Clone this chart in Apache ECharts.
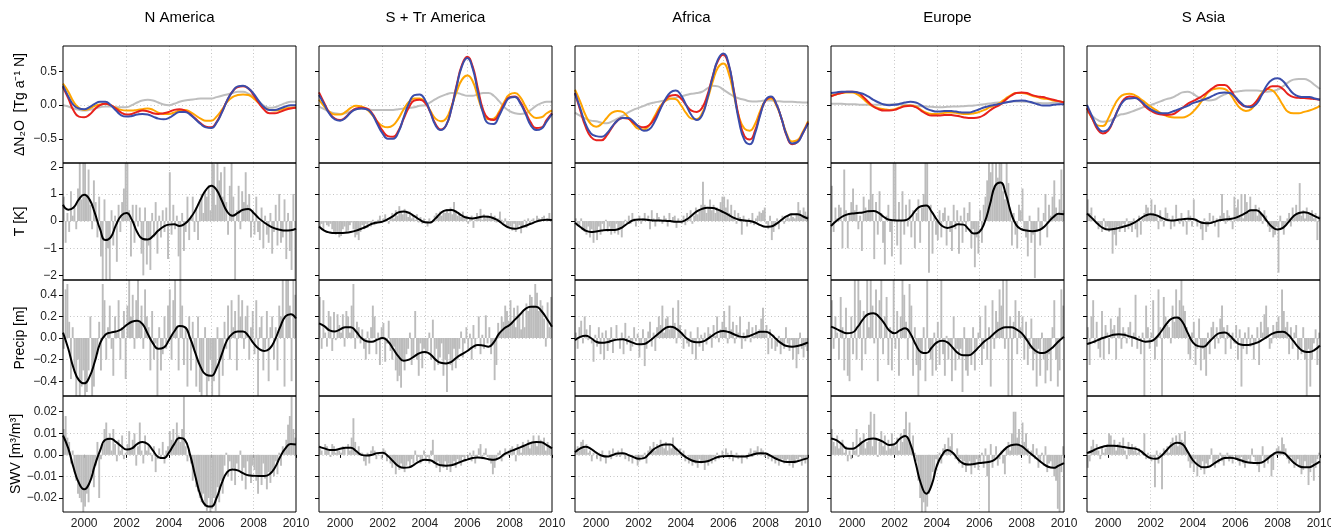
<!DOCTYPE html>
<html><head><meta charset="utf-8">
<script src="https://cdn.jsdelivr.net/npm/echarts@6/dist/echarts.min.js"></script>
<style>html,body{margin:0;padding:0;background:#fff}#c{width:1331px;height:531px}</style>
</head><body><div id="c"></div>
<script>
const regions = ['N America', 'S + Tr America', 'Africa', 'Europe', 'S Asia'];
const rowNames = ['ΔN₂O  [Tg a⁻¹ N]', 'T [K]', 'Precip [m]', 'SWV [m³/m³]'];
const yearTicks = [2000, 2002, 2004, 2006, 2008, 2010];
const n2oTicks = [-0.5, 0, 0.5];
const tTicks = [-2, -1, 0, 1, 2];
const precipTicks = [-0.4, -0.2, 0, 0.2, 0.4];
const swvTicks = [-0.02, -0.01, 0, 0.01, 0.02];
// sample times: quarterly for smoothed curves, monthly for anomaly bars
const quarters = Array.from({length: 45}, (_, i) => 1999 + i * 0.25);
const months = Array.from({length: 132}, (_, i) => 1999 + (i + 0.5) / 12);

// ---------- N America ----------
const naN2oGray = [0,-0.02,-0.05,-0.07, -0.08,-0.07,-0.05,-0.03, -0.02,-0.02,-0.03,-0.03, -0.03,0,0.04,0.07, 0.08,0.07,0.04,0.01, 0,0.02,0.05,0.07, 0.08,0.09,0.1,0.1, 0.1,0.12,0.14,0.16, 0.18,0.2,0.2,0.17, 0.12,0.05,-0.01,-0.04, -0.03,0,0.03,0.05, 0.05];
const naN2oOrange = [0.32,0.2,0.05,-0.04, -0.07,-0.05,-0.01,0.01, 0.02,0,-0.04,-0.07, -0.08,-0.08,-0.07,-0.06, -0.05,-0.07,-0.11,-0.13, -0.13,-0.11,-0.08,-0.07, -0.1,-0.15,-0.2,-0.23, -0.23,-0.17,-0.07,0.05, 0.12,0.15,0.16,0.15, 0.1,0.03,-0.04,-0.07, -0.08,-0.07,-0.05,-0.04, -0.03];
const naN2oRed = [0.27,0.1,-0.08,-0.17, -0.18,-0.14,-0.06,0, 0.02,0,-0.05,-0.11, -0.14,-0.13,-0.1,-0.08, -0.09,-0.12,-0.13,-0.12, -0.1,-0.07,-0.06,-0.08, -0.13,-0.2,-0.27,-0.32, -0.33,-0.25,-0.1,0.07, 0.2,0.27,0.28,0.25, 0.15,0.03,-0.07,-0.12, -0.12,-0.1,-0.07,-0.05, -0.04];
const naN2oBlue = [0.29,0.13,0,-0.05, -0.06,-0.03,0.02,0.05, 0.05,0,-0.08,-0.15, -0.17,-0.16,-0.14,-0.13, -0.14,-0.17,-0.2,-0.21, -0.19,-0.14,-0.1,-0.1, -0.14,-0.21,-0.28,-0.33, -0.34,-0.26,-0.11,0.07, 0.2,0.28,0.29,0.25, 0.17,0.06,-0.03,-0.07, -0.07,-0.05,-0.02,0, 0];
const naTSmooth = [0.6,0.42,0.5,0.8, 0.97,0.8,0.3,-0.3, -0.7,-0.6,-0.15,0.2, 0.3,0.05,-0.4,-0.65, -0.68,-0.55,-0.35,-0.2, -0.13,-0.12,-0.18,-0.1, 0.1,0.4,0.8,1.15, 1.3,1.15,0.75,0.35, 0.2,0.3,0.42,0.45, 0.3,0.1,-0.05,-0.18, -0.27,-0.32,-0.35,-0.34, -0.28];
const naPrecipSmooth = [0.05,-0.1,-0.28,-0.39, -0.42,-0.36,-0.22,-0.05, 0.03,0.05,0.06,0.08, 0.12,0.15,0.16,0.13, 0.04,-0.05,-0.1,-0.09, -0.02,0.06,0.11,0.1, 0,-0.14,-0.27,-0.34, -0.35,-0.28,-0.15,-0.02, 0.04,0.06,0.06,0.02, -0.05,-0.1,-0.12,-0.1, -0.02,0.1,0.2,0.22, 0.18];
const naSwvSmooth = [0.009,0.003,-0.006,-0.013, -0.016,-0.013,-0.005,0.002, 0.007,0.0075,0.006,0.004, 0.0025,0.003,0.005,0.006, 0.005,0.002,-0.001,-0.0015, 0.001,0.005,0.0078,0.007, 0,-0.01,-0.019,-0.0235, -0.024,-0.02,-0.013,-0.008, -0.0068,-0.0072,-0.0085,-0.0095, -0.0097,-0.0098,-0.0098,-0.009, -0.006,-0.001,0.003,0.005, 0.0048];
const naT = [0.9,-0.8,0.3,-0.4,1.1,0.2,0.5,-0.3,1.2,2.2,0.8,2.4,
 2.3,1.0,1.9,0.6,-0.3,1.5,0.7,-0.6,0.9,-1.3,-2.4,0.8,
 -2.3,-1.0,-2.5,0.4,-0.9,0.2,-1.5,0.6,-0.4,0.7,1.2,2.3,
 2.3,0.4,-1.3,0.6,-0.8,0.6,-0.2,0.5,-1.2,-2.0,0.5,-1.6,
 -0.9,-1.8,0.3,-0.6,0.7,-1.2,0.2,-0.6,0.4,-0.4,0.5,-1.4,
 1.8,-0.5,0.6,-0.3,0.2,-1.3,-2.3,0.3,-1.1,-0.4,0.9,-0.7,
 0.2,0.9,-0.4,0.5,-0.7,0.8,1.0,0.3,1.1,0.9,1.3,0.4,
 2.3,2.1,0.6,2.2,1.5,1.8,0.9,2.0,0.7,-0.5,1.3,2.2,
 0.9,-2.3,0.4,1.3,-0.3,1.1,0.7,1.8,0.6,1.0,-0.6,0.4,
 -0.5,0.9,-0.4,-0.7,0.5,-1.0,0.2,-0.5,-0.8,0.3,-1.2,-0.4,
 0.6,-0.9,1.0,-0.8,-0.6,0.8,-1.4,0.3,-1.1,-1.8,1.0,-2.2];
const naPrecip = [-0.1,0.45,0.5,0.15,-0.38,0.1,-0.3,-0.54,-0.2,-0.54,-0.45,-0.3,
 -0.54,-0.5,-0.3,0.2,-0.54,-0.45,-0.2,-0.15,0.15,-0.3,0.5,0.35,
 -0.2,0.1,0.3,-0.1,-0.35,0.2,0.05,0.35,-0.2,0.1,0.25,-0.38,
 0.3,0.54,0.2,0.4,-0.1,0.35,0.54,0.15,0.3,-0.1,0.45,0.2,
 0.1,-0.3,0.25,-0.2,-0.05,-0.54,0.1,-0.3,-0.15,0.2,-0.1,0.3,
 0.45,-0.2,0.35,0.54,0.1,-0.3,0.54,0.3,-0.25,0.1,-0.45,0.2,
 -0.3,0.15,-0.1,-0.45,0.2,-0.5,-0.54,-0.3,0.1,-0.54,-0.4,-0.2,
 -0.54,-0.4,-0.3,0.1,-0.54,-0.2,-0.35,0.15,-0.1,0.3,-0.2,0.35,
 0.1,0.25,-0.3,0.4,0.2,0.35,-0.1,0.2,0.3,-0.2,0.1,0.25,
 -0.15,0.35,-0.54,0.1,0.2,-0.3,-0.1,0.25,-0.4,0.1,0.2,-0.2,
 0.1,-0.3,0.3,0.2,0.54,-0.45,0.54,0.54,0.3,-0.4,0.54,0.4];
const naSwv = [0.012,0.018,0.008,0.006,-0.004,0.002,-0.008,-0.012,-0.018,-0.02,-0.022,-0.027,
 -0.024,-0.018,-0.022,-0.012,-0.008,-0.015,-0.005,0.006,-0.02,-0.002,0.005,0.012,
 0.015,0.008,0.01,0.002,0.012,0.005,-0.003,0.007,0.002,0.009,-0.002,0.001,
 0.005,0.011,0.003,0.007,0.01,-0.005,0.004,0.015,0.002,-0.004,0.009,0.002,
 0.005,0.001,-0.003,0.004,-0.008,-0.002,0.003,-0.001,0.006,-0.004,0.002,0.004,
 0.011,0.007,0.012,0.005,0.015,0.009,0.006,0.012,0.027,0.004,-0.003,0.002,
 -0.004,-0.012,-0.008,-0.015,-0.017,-0.02,-0.022,-0.018,-0.024,-0.026,-0.02,-0.027,
 -0.025,-0.02,-0.026,-0.015,-0.022,-0.012,-0.018,-0.005,0.001,-0.01,-0.003,-0.012,
 -0.006,-0.014,-0.004,-0.008,0.002,-0.012,-0.006,-0.016,-0.003,-0.009,-0.013,-0.005,
 -0.007,-0.012,-0.018,-0.01,-0.014,-0.004,-0.011,-0.016,-0.008,-0.013,-0.007,-0.01,
 -0.003,-0.009,0.001,-0.005,0.004,0.002,0.007,0.014,0.018,0.027,0.012,0.008];

// ---------- S + Tr America ----------
const saN2oGray = [-0.02,-0.06,-0.1,-0.12, -0.13,-0.12,-0.09,-0.06, -0.05,-0.06,-0.07,-0.07, -0.07,-0.07,-0.07,-0.06, -0.05,-0.04,-0.03,-0.01, 0,0.04,0.09,0.13, 0.16,0.18,0.18,0.16, 0.14,0.14,0.16,0.18, 0.18,0.14,0.06,-0.03, -0.09,-0.12,-0.13,-0.12, -0.07,-0.01,0.03,0.05, 0.05];
const saN2oOrange = [0.08,-0.02,-0.1,-0.14, -0.14,-0.1,-0.04,-0.01, -0.02,-0.06,-0.14,-0.24, -0.31,-0.33,-0.3,-0.2, -0.06,0.05,0.1,0.1, 0.05,-0.08,-0.2,-0.24, -0.2,-0.02,0.2,0.38, 0.44,0.36,0.12,-0.1, -0.21,-0.2,-0.1,0.05, 0.16,0.18,0.12,-0.02, -0.14,-0.19,-0.18,-0.12, -0.08];
const saN2oRed = [0.19,0.03,-0.12,-0.2, -0.22,-0.18,-0.1,-0.05, -0.04,-0.05,-0.12,-0.25, -0.38,-0.46,-0.47,-0.38, -0.2,-0.03,0.07,0.08, 0.04,-0.1,-0.28,-0.36, -0.3,-0.05,0.3,0.6, 0.72,0.58,0.25,-0.07, -0.2,-0.22,-0.13,0.02, 0.12,0.13,0.05,-0.1, -0.26,-0.34,-0.33,-0.22, -0.12];
const saN2oBlue = [0.15,0.01,-0.13,-0.21, -0.23,-0.19,-0.11,-0.06, -0.05,-0.06,-0.13,-0.28, -0.42,-0.5,-0.5,-0.4, -0.18,0.03,0.15,0.16, 0.08,-0.1,-0.3,-0.37, -0.3,-0.06,0.28,0.58, 0.7,0.55,0.2,-0.12, -0.27,-0.28,-0.16,0, 0.11,0.12,0.03,-0.13, -0.3,-0.37,-0.35,-0.24, -0.13];
const saTSmooth = [-0.2,-0.35,-0.42,-0.44, -0.44,-0.43,-0.4,-0.35, -0.28,-0.2,-0.1,-0.05, -0.02,0.07,0.18,0.32, 0.35,0.3,0.18,0.05, -0.04,-0.05,0.1,0.3, 0.4,0.41,0.33,0.2, 0.12,0.1,0.13,0.17, 0.16,0.1,0,-0.15, -0.25,-0.28,-0.24,-0.17, -0.1,-0.02,0.03,0.05, 0.04];
const saPrecipSmooth = [0.135,0.11,0.07,0.06, 0.08,0.1,0.1,0.06, 0,-0.03,-0.035,-0.015, 0,-0.03,-0.1,-0.17, -0.21,-0.2,-0.17,-0.14, -0.13,-0.15,-0.2,-0.23, -0.235,-0.22,-0.18,-0.15, -0.12,-0.085,-0.065,-0.07, -0.08,-0.04,0.04,0.09, 0.12,0.17,0.22,0.27, 0.29,0.29,0.25,0.18, 0.105];
const saSwvSmooth = [0.0038,0.003,0.0023,0.0023, 0.0028,0.0033,0.0033,0.0018, 0,-0.0003,0,0.0008, 0.001,-0.0005,-0.003,-0.0052, -0.006,-0.0058,-0.0045,-0.003, -0.0023,-0.0025,-0.0038,-0.0048, -0.005,-0.0048,-0.004,-0.003, -0.0022,-0.0015,-0.0012,-0.0015, -0.002,-0.0023,-0.0015,0.0003, 0.0015,0.0025,0.0035,0.0045, 0.0055,0.006,0.0058,0.0045, 0.003];
const saT = [-0.2,-0.1,-0.3,-0.05,-0.15,-0.2,-0.1,-0.3,-0.4,-0.5,-0.4,-0.6,
 -0.55,-0.3,-0.2,-0.4,-0.35,-0.15,-0.05,-0.3,-0.6,-0.5,-0.7,-0.4,
 -0.15,-0.3,-0.1,-0.25,-0.05,-0.2,0.05,-0.15,-0.1,0.05,0.2,-0.05,
 0.1,0.25,0.05,-0.1,0.15,0.3,0.1,0.4,0.2,0.55,0.35,0.25,
 0.45,0.3,0.15,0.35,0.1,0.2,0.05,0.25,-0.05,0.15,-0.1,0.1,
 -0.05,-0.2,0.1,-0.1,0.05,0.2,0.3,0.15,0.35,0.2,0.4,0.3,
 0.45,0.3,0.5,0.25,0.7,0.4,0.2,0.3,0.15,0.35,0.1,0.2,
 -0.1,0.1,0.2,-0.25,0.05,0.3,0.15,0.45,0.05,0.25,0.1,0.2,
 0.15,0.3,0.1,0.2,-0.05,0.1,0.35,0.05,-0.1,0.1,-0.15,-0.2,
 -0.2,-0.35,-0.1,-0.4,-0.3,-0.15,-0.45,-0.2,0.05,-0.25,0.1,-0.1,
 0.05,0.1,-0.05,0.2,0.1,0.05,0.15,0.2,0,0.1,0.3,0.05];
const saPrecip = [0.38,-0.1,0.35,0.05,-0.08,0.25,0.2,-0.12,0.24,-0.02,0.22,0.12,
 0.05,0.22,-0.08,0.25,0.2,0.05,0.3,0.5,-0.1,0.15,0.1,-0.05,
 0.08,-0.1,-0.2,0.06,-0.15,0.1,0.3,0.2,-0.15,0.05,-0.25,0.1,
 0.14,-0.22,-0.05,0.16,-0.12,-0.2,-0.08,-0.3,-0.4,-0.35,-0.46,-0.2,
 -0.3,-0.15,-0.1,0.05,-0.25,-0.18,0.25,-0.2,-0.35,-0.05,-0.28,-0.1,
 -0.15,-0.12,0.05,-0.2,0.17,-0.3,-0.1,-0.25,-0.18,-0.05,-0.35,-0.2,
 -0.5,-0.15,-0.25,-0.3,-0.1,-0.28,-0.2,-0.1,0.06,-0.18,-0.05,0.1,
 -0.12,0.04,-0.2,0.12,-0.1,0,0.2,-0.15,0.03,-0.1,0.21,-0.05,
 0.1,-0.15,-0.05,-0.39,-0.25,0.14,0.05,0.2,0.15,0.3,0.25,0.16,
 0.35,0.15,0.28,0.1,0.3,0.2,0.08,0.24,0.1,0.32,0.25,0.4,
 0.38,0.3,0.5,0.42,0.25,0.35,0.3,0.18,-0.08,0.33,0.1,0.38];
const saSwv = [0.004,0.002,0,0.005,0.004,0.002,-0.001,0.005,0.004,0.001,0.003,0.002,
 0.001,0.004,0.003,0,0.005,0.002,0.008,0.017,0.006,0.002,0.004,0.001,
 0.001,-0.003,-0.005,0.001,-0.004,0.002,0.004,0.002,-0.002,0.001,0,-0.002,
 0.003,0.002,-0.003,-0.001,-0.004,-0.006,-0.003,-0.009,-0.005,-0.007,-0.004,-0.006,
 -0.008,-0.005,-0.003,-0.006,-0.002,-0.004,0.002,-0.003,-0.001,-0.004,-0.002,0.002,
 -0.003,-0.001,-0.004,0.002,0.007,-0.004,-0.006,-0.003,-0.008,-0.005,-0.006,-0.003,
 -0.007,-0.004,-0.008,-0.005,-0.003,-0.006,-0.002,-0.004,-0.005,-0.001,-0.003,0,
 -0.002,0.001,-0.003,0.002,-0.004,-0.001,0.003,0.005,-0.002,0.001,0.003,-0.001,
 -0.002,-0.004,-0.009,-0.006,-0.002,0.001,0.002,-0.003,-0.001,0.003,0.001,0.002,
 0.003,0.004,0.002,-0.003,0.005,0.003,0.001,0.006,0.004,0.005,0.007,0.003,
 0.005,0.009,0.006,0.004,0.009,0.007,0.005,0.008,0.002,0.006,0.004,0.003];

// ---------- Africa ----------
const afN2oGray = [-0.11,-0.16,-0.2,-0.23, -0.24,-0.26,-0.27,-0.24, -0.2,-0.16,-0.11,-0.07, -0.04,-0.01,0.02,0.04, 0.055,0.07,0.09,0.11, 0.13,0.15,0.17,0.18, 0.2,0.25,0.29,0.28, 0.23,0.18,0.13,0.1, 0.08,0.06,0.055,0.06, 0.07,0.07,0.06,0.055, 0.05,0.05,0.045,0.04, 0.04];
const afN2oOrange = [0.23,0.05,-0.15,-0.28, -0.32,-0.28,-0.19,-0.11, -0.085,-0.1,-0.18,-0.28, -0.35,-0.36,-0.3,-0.17, -0.03,0.06,0.1,0.09, 0,-0.12,-0.2,-0.21, -0.12,0.08,0.35,0.56, 0.62,0.48,0.15,-0.18, -0.35,-0.38,-0.28,-0.08, 0.07,0.1,0,-0.2, -0.43,-0.54,-0.52,-0.4, -0.24];
const afN2oRed = [0.18,-0.08,-0.32,-0.47, -0.52,-0.52,-0.45,-0.33, -0.23,-0.19,-0.2,-0.26, -0.31,-0.33,-0.3,-0.2, -0.06,0.07,0.14,0.15, 0.1,0,-0.08,-0.1, -0.04,0.15,0.43,0.66, 0.75,0.6,0.22,-0.2, -0.46,-0.51,-0.38,-0.12, 0.07,0.12,0.02,-0.2, -0.46,-0.58,-0.55,-0.42, -0.26];
const afN2oBlue = [0.18,-0.05,-0.28,-0.42, -0.46,-0.47,-0.42,-0.32, -0.23,-0.19,-0.19,-0.24, -0.32,-0.38,-0.36,-0.25, -0.08,0.08,0.19,0.22, 0.15,0,-0.15,-0.22, -0.15,0.1,0.42,0.68, 0.77,0.62,0.2,-0.25, -0.52,-0.58,-0.42,-0.14, 0.08,0.13,0.02,-0.2, -0.45,-0.57,-0.55,-0.42, -0.27];
const afTSmooth = [-0.06,-0.22,-0.35,-0.4, -0.38,-0.35,-0.33,-0.33, -0.31,-0.22,-0.08,0.03, 0.06,0.06,0.04,0.02, 0.02,0.01,0,-0.02, -0.02,0.05,0.2,0.36, 0.45,0.49,0.48,0.42, 0.33,0.23,0.12,0.05, 0.02,0,-0.05,-0.15, -0.21,-0.2,-0.1,0.05, 0.18,0.25,0.25,0.18, 0.09];
const afPrecipSmooth = [-0.02,0.01,0.02,0, -0.035,-0.045,-0.04,-0.025, -0.015,-0.012,-0.025,-0.045, -0.058,-0.055,-0.03,0.01, 0.05,0.09,0.105,0.09, 0.05,0,-0.03,-0.04, -0.035,-0.01,0.025,0.055, 0.065,0.055,0.035,0.015, 0.01,0.02,0.04,0.058, 0.058,0.035,-0.01,-0.05, -0.075,-0.08,-0.075,-0.06, -0.04];
const afSwvSmooth = [0.0012,0.003,0.0038,0.0028, 0.001,-0.0003,-0.0008,-0.0002, 0.0006,0.0008,0,-0.001, -0.0018,-0.0015,0.0005,0.0028, 0.0042,0.0048,0.0048,0.003, 0.0008,-0.0012,-0.0025,-0.0032, -0.0033,-0.003,-0.002,-0.001, -0.0006,-0.0005,-0.0006,-0.0008, -0.0008,-0.0003,0.0004,0.0008, 0.0006,-0.0005,-0.0018,-0.0028, -0.0033,-0.0033,-0.003,-0.0022, -0.0015];
const afT = [0.1,-0.1,-0.2,0.1,-0.3,-0.4,-0.5,-0.2,-0.6,-0.3,-0.8,-0.4,
 -0.7,-0.2,-0.5,-0.1,-0.3,0.05,-0.4,-0.2,-0.5,-0.3,-0.45,-0.1,
 -0.5,-0.3,-0.6,-0.2,0.05,-0.1,0.2,-0.1,0.3,0.1,-0.2,0.05,
 0.2,-0.1,0.1,0.3,0,0.2,-0.3,0.4,0.1,-0.2,0.3,0.15,
 0.05,-0.1,0.2,0.1,-0.2,0.3,-0.05,0.15,0.2,-0.25,0.1,0,
 -0.1,0.2,-0.15,0.3,0.1,0.4,-0.1,0.2,0.5,0.25,0.4,0.6,
 1.45,0.6,0.3,0.5,0.8,0.4,0.6,0.3,0.5,0.4,0.7,0.9,
 0.9,0.5,0.8,0.3,0.6,0.1,0.4,-0.1,0.3,0.15,-0.5,0.2,
 0.05,-0.2,0.1,-0.1,0.3,-0.15,0.1,0.2,0.35,0.3,0.4,0.5,
 -0.1,-0.3,0.2,-0.7,-0.4,-0.2,0.1,-0.3,0.05,0.2,-0.1,0.1,
 0.2,0.1,0.3,0.15,0.1,0.3,0.7,0.4,0.2,0.5,0.35,0.2];
const afPrecip = [0.05,-0.1,0.1,0.16,-0.05,0.2,0.08,-0.02,0.12,-0.05,-0.22,0.03,
 -0.08,0.1,-0.15,0.05,-0.2,0.07,-0.12,-0.05,0.1,-0.14,-0.03,0.12,
 0,-0.1,0.05,-0.15,0.14,-0.06,0.02,-0.12,-0.08,0.1,-0.03,0.04,
 -0.18,-0.05,0.08,-0.26,-0.1,0.06,0.15,-0.08,0.05,-0.12,0.1,0.2,
 0.12,0.3,0.05,0.18,0.2,0.08,0.1,0.28,0.14,-0.05,0.35,0.12,
 0.05,-0.1,0.08,-0.05,-0.08,0.06,-0.15,-0.04,-0.2,0.1,-0.08,0.03,
 -0.12,0.05,-0.06,0.1,0.04,-0.09,0.12,0.02,0.2,-0.04,0.08,0.15,
 0.25,0.1,-0.05,0.3,0.08,0.15,-0.05,0.12,0.05,0.2,-0.1,0.05,
 -0.03,0.08,0.15,-0.04,0.1,0.02,0.12,0.05,0.08,0.18,0.28,0.05,
 0.12,-0.15,0.08,-0.1,0.03,-0.12,-0.08,0.02,-0.15,-0.05,-0.1,0.1,
 -0.05,-0.12,-0.02,-0.2,-0.08,-0.28,-0.15,0.05,-0.1,-0.18,-0.08,-0.12];
const afSwv = [0.001,0.004,0.002,0.006,0.007,0.003,0.005,0.001,0.002,-0.003,0.001,0,
 -0.002,0.001,-0.003,0.002,-0.001,-0.004,0,0.002,-0.002,0.003,0.001,-0.001,
 0.002,-0.001,0.003,0.001,-0.002,0,-0.003,-0.001,-0.004,0,-0.002,-0.005,
 -0.003,-0.001,-0.002,0.001,-0.004,0.002,0.004,0.003,0.006,0.002,0.005,0.004,
 0.007,0.004,0.003,0.006,0.002,0.005,0.003,0.008,0.004,0.002,0.001,0.003,
 -0.001,0.002,-0.003,0,-0.004,-0.002,-0.005,-0.003,-0.004,-0.006,-0.002,-0.004,
 -0.003,-0.007,-0.003,-0.005,-0.002,-0.004,-0.001,-0.003,0.001,-0.002,0,0.002,
 -0.001,0.003,0.001,-0.002,0.002,-0.003,-0.001,0.001,-0.002,0,-0.004,-0.001,
 0,-0.002,0.001,0.003,-0.001,0.002,0.002,0.004,0.001,0.003,0.002,-0.001,
 0.001,-0.002,0,-0.003,-0.001,-0.004,-0.002,-0.005,-0.003,-0.002,-0.004,-0.003,
 -0.002,-0.005,-0.003,-0.006,-0.004,-0.002,-0.003,-0.001,-0.005,-0.002,-0.004,-0.001];

// ---------- Europe ----------
const euN2oGray = [0.02,0.02,0.02,0.015, 0.015,0.01,0.005,0.005, 0.005,0.005,0.01,0.01, 0.015,0.01,0.005,0, -0.01,-0.015,-0.02,-0.025, -0.03,-0.03,-0.025,-0.02, -0.02,-0.015,-0.01,-0.005, 0.005,0.015,0.025,0.035, 0.04,0.045,0.05,0.055, 0.055,0.05,0.04,0.035, 0.03,0.03,0.035,0.04, 0.045];
const euN2oOrange = [0.14,0.16,0.18,0.19, 0.19,0.16,0.1,0.03, -0.02,-0.045,-0.06,-0.07, -0.06,-0.035,-0.01,-0.005, -0.02,-0.07,-0.11,-0.13, -0.13,-0.12,-0.11,-0.11, -0.12,-0.13,-0.13,-0.12, -0.1,-0.07,-0.03,0, 0.04,0.1,0.15,0.18, 0.18,0.17,0.14,0.12, 0.1,0.09,0.07,0.06, 0.04];
const euN2oRed = [0.13,0.16,0.18,0.2, 0.2,0.19,0.13,0.05, -0.02,-0.06,-0.08,-0.08, -0.07,-0.04,-0.015,-0.01, -0.03,-0.08,-0.13,-0.155, -0.155,-0.15,-0.145,-0.15, -0.16,-0.18,-0.19,-0.19, -0.18,-0.14,-0.08,-0.03, 0.01,0.08,0.14,0.18, 0.19,0.18,0.15,0.13, 0.12,0.1,0.08,0.06, 0.04];
const euN2oBlue = [0.18,0.19,0.2,0.2, 0.2,0.19,0.17,0.13, 0.08,0.04,0.01,0, 0.005,0.02,0.04,0.05, 0.04,0,-0.05,-0.08, -0.095,-0.09,-0.085,-0.09, -0.1,-0.11,-0.11,-0.09, -0.06,-0.03,-0.01,0.005, 0.02,0.04,0.055,0.065, 0.07,0.06,0.04,0.015, -0.005,-0.005,0.005,0.012, 0.015];
const euTSmooth = [-0.18,0,0.15,0.24, 0.28,0.3,0.32,0.36, 0.37,0.3,0.15,0.05, 0.03,0.02,0.03,0.15, 0.4,0.55,0.57,0.35, 0.05,-0.18,-0.25,-0.2, -0.12,-0.13,-0.3,-0.46, -0.4,-0.05,0.6,1.3, 1.42,1.0,0.3,-0.15, -0.3,-0.35,-0.37,-0.35, -0.25,-0.05,0.15,0.27, 0.25];
const euPrecipSmooth = [0.105,0.085,0.06,0.045, 0.05,0.1,0.17,0.22, 0.23,0.2,0.14,0.07, 0.045,0.07,0.09,0.04, -0.06,-0.13,-0.14,-0.09, -0.04,-0.025,-0.04,-0.09, -0.14,-0.16,-0.16,-0.13, -0.08,-0.03,0.005,0.05, 0.085,0.1,0.1,0.08, 0.045,-0.02,-0.09,-0.13, -0.14,-0.12,-0.08,-0.03, 0.012];
const euSwvSmooth = [0.0076,0.0068,0.005,0.003, 0.0028,0.004,0.006,0.0073, 0.0076,0.007,0.0058,0.0046, 0.005,0.0075,0.0088,0.005, -0.004,-0.0135,-0.018,-0.014, -0.005,0,0.0022,0.001, -0.002,-0.004,-0.0045,-0.0042, -0.0038,-0.0035,-0.0032,-0.002, 0.0005,0.003,0.0045,0.0048, 0.004,0.002,0,-0.002, -0.004,-0.0055,-0.006,-0.005, -0.0038];
const euT = [1.3,-0.4,0.5,0.1,0.6,0.5,-1.0,1.9,0.4,-1.0,0.3,0.7,
 1.2,0.4,0.6,-0.3,0.2,-1.1,0.9,0.5,0.3,0.8,2.2,1.0,
 -1.4,0.7,-0.5,1.1,0.3,-0.8,-1.6,0.2,0.6,-0.4,-1.3,2.2,
 2.2,-0.9,0.7,-1.6,1.1,-0.5,0.6,-0.2,0.8,-0.6,0.4,-1.0,
 0.3,0.8,-0.8,0.5,1.0,2.2,2.2,-1.9,0.6,-1.2,0.2,-0.5,
 -0.7,0.4,-0.6,0.3,0.5,-0.9,0.2,-0.4,-1.1,0.6,-0.3,0.4,
 -1.2,0.2,-0.8,0.5,-0.4,0.3,0.7,-1.0,-0.3,-1.7,-0.6,-1.2,
 0.4,-0.8,0.6,0.9,1.5,2.2,1.8,2.2,1.3,2.2,1.6,2.2,
 2.2,1.1,0.8,2.2,1.4,0.5,-0.9,0.3,-0.5,-1.0,0.6,0.4,
 1.2,-0.3,-0.6,-1.3,0.2,-0.8,-0.5,-2.1,-0.4,0.5,-0.9,-0.3,
 0.3,1.0,-0.6,0.6,0.2,0.9,1.5,0.5,0.3,0.8,1.9,0.4];
const euPrecip = [0.35,-0.1,0.2,0.05,-0.2,0.38,0.1,-0.3,0.28,-0.35,-0.4,0.2,
 -0.15,0.54,-0.2,0.54,0.35,-0.3,0.25,-0.15,0.54,0.1,0.54,0.3,
 -0.05,0.45,-0.4,0.35,0.54,-0.15,0.2,0.38,-0.25,0.1,-0.3,0.54,
 -0.1,0.25,-0.35,0.2,0.54,0.4,0.15,-0.2,0.5,0.3,-0.35,0.1,
 -0.25,-0.54,-0.3,-0.15,0.1,-0.4,0.54,-0.1,-0.2,-0.35,0.05,-0.3,
 0.15,-0.25,0.54,-0.15,-0.35,0.02,-0.2,-0.05,-0.4,0.2,-0.3,-0.1,
 -0.2,-0.1,-0.5,0.1,-0.3,-0.35,-0.15,-0.25,0.1,-0.3,-0.1,0.05,
 0.2,-0.25,-0.1,0.3,-0.2,0.1,-0.45,0.35,-0.1,0.25,0.15,0.45,
 0.3,0.54,-0.1,0.54,-0.54,0.2,-0.54,0.15,0.35,-0.15,0.25,0.1,
 0.2,-0.2,0.15,-0.25,-0.1,0.18,-0.3,-0.15,-0.45,-0.1,-0.35,0.05,
 -0.2,-0.42,-0.3,-0.15,-0.4,0.1,0.35,-0.2,-0.45,-0.3,0.45,0.3];
const euSwv = [0.012,0.006,0.004,0.009,0.003,0.005,0.007,0.001,0.004,-0.003,0.002,-0.002,
 0.006,0.002,0.012,-0.001,0.008,0.005,0.01,0.003,0.006,0.014,0.02,0.004,
 0.019,0.008,-0.001,0.006,0.011,0.004,0.009,0.002,0.007,0.003,0.01,0.005,
 0.004,0.008,0.002,0.01,0.006,0.012,0.02,0.008,0.015,0.004,0.009,0.001,
 -0.003,-0.012,-0.02,-0.027,-0.022,-0.027,-0.024,-0.018,-0.015,-0.008,-0.01,-0.002,
 -0.005,0.001,-0.004,0.003,0.005,0.002,0.008,0.004,0.01,0.001,-0.002,0.003,
 -0.004,-0.002,-0.006,-0.003,-0.008,-0.005,-0.003,-0.009,-0.004,-0.006,-0.002,-0.007,
 -0.004,0.001,-0.006,0.003,-0.01,-0.027,0.005,-0.006,-0.003,0.004,-0.005,-0.002,
 0.002,-0.004,-0.009,0.004,0.006,0.002,0.01,0.02,0.02,0.008,0.012,0.004,
 0.015,0.006,0.01,0.003,-0.004,0.002,0.005,-0.002,0.003,-0.006,-0.003,0.001,
 -0.005,0.004,-0.008,-0.004,-0.003,-0.006,-0.01,-0.012,-0.025,-0.027,-0.008,0.004];

// ---------- S Asia ----------
const asN2oGray = [-0.095,-0.16,-0.22,-0.245, -0.24,-0.2,-0.15,-0.13, -0.11,-0.08,-0.05,-0.02, 0,0.03,0.06,0.09, 0.11,0.15,0.19,0.2, 0.17,0.12,0.09,0.07, 0.08,0.12,0.16,0.19, 0.2,0.21,0.22,0.22, 0.22,0.21,0.2,0.21, 0.23,0.28,0.34,0.38, 0.39,0.39,0.36,0.3, 0.24];
const asN2oOrange = [-0.045,-0.2,-0.3,-0.31, -0.2,-0.03,0.1,0.16, 0.17,0.15,0.1,0.04, -0.02,-0.07,-0.12,-0.16, -0.18,-0.185,-0.185,-0.16, -0.1,-0.01,0.1,0.2, 0.24,0.25,0.24,0.17, 0.05,-0.05,-0.085,-0.06, 0.05,0.18,0.24,0.22, 0.13,0,-0.1,-0.12, -0.12,-0.1,-0.08,-0.05, -0.01];
const asN2oRed = [-0.045,-0.2,-0.36,-0.42, -0.38,-0.22,-0.04,0.09, 0.13,0.12,0.07,-0.02, -0.08,-0.12,-0.14,-0.145, -0.14,-0.1,-0.04,0.02, 0.06,0.1,0.15,0.21, 0.27,0.3,0.3,0.24, 0.12,0.02,-0.02,-0.01, 0.06,0.16,0.24,0.28, 0.28,0.24,0.16,0.12, 0.11,0.105,0.1,0.09, 0.08];
const asN2oBlue = [0.005,-0.17,-0.33,-0.39, -0.36,-0.22,-0.05,0.07, 0.1,0.105,0.07,0, -0.06,-0.1,-0.12,-0.12, -0.1,-0.07,-0.04,-0.01, 0.03,0.055,0.08,0.11, 0.15,0.18,0.19,0.18, 0.12,0.04,-0.02,-0.03, 0.02,0.15,0.3,0.38, 0.4,0.36,0.26,0.17, 0.13,0.12,0.12,0.1, 0.08];
const asTSmooth = [0.28,0.1,-0.1,-0.25, -0.31,-0.29,-0.25,-0.2, -0.14,-0.05,0.08,0.2, 0.25,0.22,0.13,0.05, 0.02,0.04,0.07,0.09, 0.08,0,-0.07,-0.08, -0.03,0.03,0.06,0.08, 0.12,0.2,0.3,0.4, 0.4,0.25,0,-0.22, -0.31,-0.25,-0.05,0.18, 0.3,0.33,0.28,0.18, 0.09];
const asPrecipSmooth = [-0.055,-0.04,-0.02,0, 0.015,0.03,0.034,0.03, 0.015,0,-0.02,-0.034, -0.03,0,0.06,0.13, 0.18,0.19,0.15,0.05, -0.04,-0.075,-0.08,-0.04, 0.01,0.045,0.052,0.02, -0.03,-0.06,-0.065,-0.06, -0.045,-0.02,0.01,0.04, 0.055,0.058,0.03,-0.03, -0.09,-0.125,-0.13,-0.11, -0.07];
const asSwvSmooth = [0.0008,0.0018,0.003,0.0038, 0.0042,0.0042,0.004,0.0036, 0.0032,0.003,0.002,0, -0.0015,-0.0018,-0.0005,0.002, 0.0045,0.0056,0.005,0.0015, -0.0025,-0.0048,-0.0058,-0.0055, -0.004,-0.0025,-0.0015,-0.0013, -0.0017,-0.0025,-0.0033,-0.0037, -0.0038,-0.0035,-0.002,0, 0.0012,0.001,-0.001,-0.0035, -0.0052,-0.0058,-0.0057,-0.0045, -0.003];
const asT = [0.8,0.3,0.5,0.1,0.2,-0.1,-0.3,-0.2,-0.4,0.1,-0.3,-0.2,
 -0.4,-0.3,-1.2,-0.5,-0.9,-0.2,-0.4,-0.2,-0.1,-0.4,0.1,-0.3,
 -0.2,-0.4,0.1,-0.3,-0.6,0.2,-0.5,0.1,0.3,0.6,0.5,0.2,
 0.8,0.3,0.6,0.2,-0.3,0.4,0.1,-0.2,0.5,0.3,0.1,-0.3,
 0.2,-0.2,0.6,0.1,-0.1,0.3,-0.2,0.1,-0.5,0.4,0.2,-0.2,
 0.8,0.1,-0.2,0,-0.3,-0.7,0.1,-0.4,-0.2,0.3,-0.1,0.2,
 -0.2,0.1,-0.6,0.2,1.0,0.3,-0.1,0.4,0.2,0.1,-0.3,0.9,
 0.5,0.8,0.2,1.0,0.1,1.0,0.7,0.3,0.9,0.4,0.4,0.6,
 0.2,0.5,0.3,-0.1,0.4,0.2,-0.2,-0.4,-0.3,-0.6,-0.5,-0.2,
 -1.9,0.2,-0.3,-0.5,-0.1,0.1,0.3,-0.2,0.5,0.2,0.6,0.3,
 1.4,0.2,0.4,0.1,0.5,0.3,0.2,0.4,0.1,0.3,-0.7,0.2];
const asPrecip = [0.1,-0.25,0.2,0.35,-0.05,0.15,-0.1,-0.18,0.25,-0.2,0.12,0.05,
 -0.15,0.18,0.08,0.12,-0.2,0.2,0.28,-0.1,0.1,0.05,-0.05,0.1,
 0.15,-0.08,0.05,0.4,-0.1,0.02,-0.15,0.05,-0.54,0.3,0.1,-0.1,
 0.05,0.35,-0.2,-0.08,0.45,0.1,-0.54,0.38,0.2,0.12,0.1,-0.05,
 0.3,0.15,0.45,0.2,0.35,0.54,0.3,0.25,0.1,-0.15,-0.2,0.05,
 0.15,-0.25,-0.1,0.18,-0.3,-0.1,-0.2,-0.35,0.05,-0.15,0.1,0.15,
 -0.1,0.1,-0.05,0.18,0.3,0.1,-0.15,0.12,0.05,-0.1,0.05,-0.05,
 0.12,-0.2,0.08,-0.45,-0.1,0.05,-0.15,0.1,-0.08,0.03,-0.2,-0.05,
 0.1,-0.25,0.15,0.05,0.22,0.3,0.1,-0.1,-0.05,0.12,0.05,0.15,
 0.2,0.05,0.45,0.25,0.1,0.15,-0.15,0.1,-0.1,0.05,0.12,-0.2,
 -0.1,-0.15,0.1,-0.2,-0.54,-0.1,-0.45,-0.2,-0.05,0.08,-0.25,0.05];
const asSwv = [-0.006,-0.003,0.004,0.007,0.003,0.005,0.002,-0.002,0.004,0.001,0.003,0.005,
 0.01,0.009,0.004,0.007,0.002,0.005,0.006,0.003,0.008,0.002,-0.002,0.006,
 0.003,0.005,0.002,0.004,0.001,0.003,0,0.002,0.01,-0.002,0.001,-0.001,
 -0.003,-0.001,-0.015,0.002,-0.004,0.001,-0.016,0.003,0.002,0.004,0.001,0.006,
 0.008,0.005,0.009,0.004,0.01,0.007,0.006,0.011,0.002,-0.003,-0.006,-0.004,
 -0.008,-0.002,-0.01,-0.005,-0.007,-0.003,-0.009,-0.004,-0.006,-0.002,0.003,-0.005,
 -0.006,-0.002,-0.004,0.001,-0.003,-0.005,-0.001,0.001,-0.003,-0.002,-0.004,0,
 -0.002,-0.003,-0.005,-0.001,-0.004,-0.006,-0.003,-0.002,-0.004,0.003,-0.001,-0.003,
 -0.005,-0.008,-0.003,0.004,-0.006,-0.002,-0.004,-0.001,-0.01,-0.007,0.001,0.003,
 0.004,0.002,0.008,0.005,0.003,-0.002,-0.004,-0.001,-0.003,-0.006,-0.004,-0.002,
 -0.005,-0.009,-0.007,-0.003,-0.006,-0.014,-0.008,-0.004,-0.012,-0.006,-0.002,0.001];

// ---------- assembly ----------
const panels = [
  {n2o:[naN2oGray,naN2oOrange,naN2oRed,naN2oBlue], bars:[naT,naPrecip,naSwv], smooth:[naTSmooth,naPrecipSmooth,naSwvSmooth]},
  {n2o:[saN2oGray,saN2oOrange,saN2oRed,saN2oBlue], bars:[saT,saPrecip,saSwv], smooth:[saTSmooth,saPrecipSmooth,saSwvSmooth]},
  {n2o:[afN2oGray,afN2oOrange,afN2oRed,afN2oBlue], bars:[afT,afPrecip,afSwv], smooth:[afTSmooth,afPrecipSmooth,afSwvSmooth]},
  {n2o:[euN2oGray,euN2oOrange,euN2oRed,euN2oBlue], bars:[euT,euPrecip,euSwv], smooth:[euTSmooth,euPrecipSmooth,euSwvSmooth]},
  {n2o:[asN2oGray,asN2oOrange,asN2oRed,asN2oBlue], bars:[asT,asPrecip,asSwv], smooth:[asTSmooth,asPrecipSmooth,asSwvSmooth]}
];
const lineColors = ['#bebebe', '#ffa500', '#e8211c', '#3a4dab'];
const rowCfg = [
  {ticks:n2oTicks, min:-0.86, max:0.88, step:0.5, dec:1},
  {ticks:tTicks, min:-2.17, max:2.14, step:1, dec:0},
  {ticks:precipTicks, min:-0.537, max:0.537, step:0.2, dec:1},
  {ticks:swvTicks, min:-0.0265, max:0.0273, step:0.01, dec:2}
];
const colLeft = [63, 319, 575, 831, 1087], colW = 233;
const rowTop = [46, 163, 280, 396], rowH = [117, 117, 116, 116];
const FONT = '"Liberation Sans", Arial, Helvetica, sans-serif';
const gridLine = {show:true, showMinLine:false, showMaxLine:false, lineStyle:{color:'#c4c4c4', width:1, type:[1, 2.5]}};
const fmt = (d) => (v) => (v < 0 ? '\u2212' : '') + Math.abs(v).toFixed(d);

const grid = [], xAxis = [], yAxis = [], series = [];
for (let c = 0; c < 5; c++) {
  for (let r = 0; r < 4; r++) {
    const gi = grid.length;
    const cfg = rowCfg[r];
    grid.push({left: colLeft[c], top: rowTop[r], width: colW, height: rowH[r], show: true,
      outerBoundsMode: 'none', containLabel: false,
      borderColor: '#000', borderWidth: 1, backgroundColor: 'transparent', z: 5});
    xAxis.push({gridIndex: gi, type: 'value', min: 1999, max: 2010, minInterval: 2, maxInterval: 2, splitNumber: 5,
      axisLine: {show: false},
      axisTick: {show: r === 3, customValues: yearTicks, length: 3, inside: false, lineStyle: {color: '#000'}},
      axisLabel: {show: r === 3, customValues: yearTicks, margin: 6, fontSize: 12, color: '#222', fontFamily: FONT,
        formatter: (v) => String(Math.round(v)), hideOverlap: false},
      splitLine: gridLine});
    yAxis.push({gridIndex: gi, type: 'value', min: cfg.min, max: cfg.max, minInterval: cfg.step, maxInterval: cfg.step, splitNumber: 4,
      name: c === 0 ? rowNames[r] : '', nameLocation: 'middle', nameGap: 36,
      nameTextStyle: {fontSize: 14, color: '#000', fontFamily: FONT},
      axisLine: {show: false},
      axisTick: {show: true, customValues: cfg.ticks, length: 4, inside: false, lineStyle: {color: '#000'}},
      axisLabel: {show: c === 0, customValues: cfg.ticks, margin: 6, hideOverlap: false,
        fontSize: 12, color: '#222', fontFamily: FONT, formatter: fmt(cfg.dec)},
      splitLine: gridLine});
    if (r === 0) {
      panels[c].n2o.forEach((vals, k) => {
        series.push({type: 'line', xAxisIndex: gi, yAxisIndex: gi, smooth: true, showSymbol: false, clip: true,
          lineStyle: {color: lineColors[k], width: 2}, z: 2 + k * 0.1,
          data: quarters.map((q, i) => [q, vals[i]])});
      });
    } else {
      const bars = panels[c].bars[r - 1], sm = panels[c].smooth[r - 1];
      series.push({type: 'bar', xAxisIndex: gi, yAxisIndex: gi, barWidth: 1.9, clip: true,
        itemStyle: {color: '#bcbcbc'}, z: 2,
        data: months.map((m, i) => [m, bars[i]])});
      series.push({type: 'line', xAxisIndex: gi, yAxisIndex: gi, smooth: true, showSymbol: false, clip: true,
        lineStyle: {color: '#000', width: 2}, z: 3,
        data: quarters.map((q, i) => [q, sm[i]])});
    }
  }
}
const graphic = regions.map((name, c) => ({type: 'text', x: colLeft[c] + colW / 2, y: 18,
  style: {text: name, align: 'center', verticalAlign: 'middle', fontSize: 15, fontFamily: FONT, fill: '#000'}}));

const chart = echarts.init(document.getElementById('c'), null, {renderer: 'canvas'});
chart.setOption({animation: false, backgroundColor: '#fff', grid, xAxis, yAxis, series, graphic});
</script>
</body></html>
